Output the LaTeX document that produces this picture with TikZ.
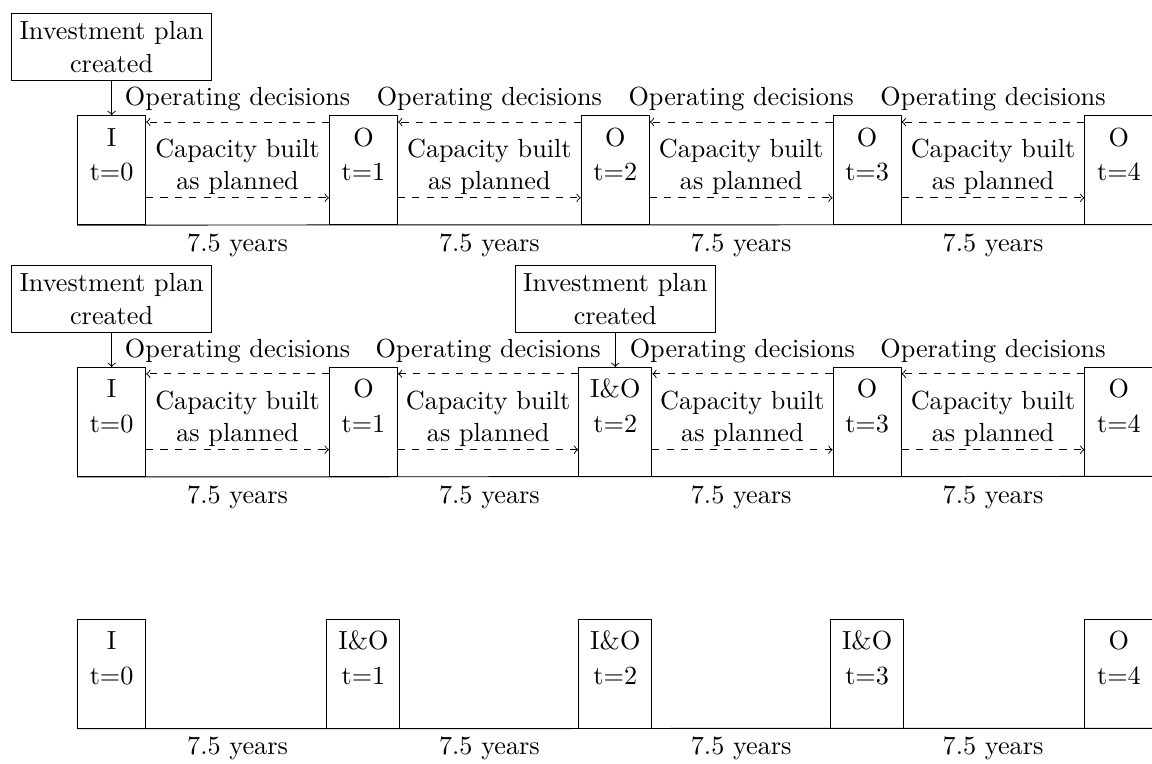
\documentclass[tikz,border=0pt]{standalone}
\usetikzlibrary{calc,positioning}
\begin{document}
\begin{tikzpicture}[
  every node/.style={font=\fontsize{10.95}{13.6}\selectfont},
  tbox/.style={draw, minimum width=1cm, minimum height=1.6cm, inner sep=0pt},
  tlabel/.style={anchor=north, inner sep=0pt, align=center},
  invbox/.style={draw, align=center},
  flow/.style={dashed, ->},
  lbl/.style={align=center}
]
\useasboundingbox (0,0) rectangle (16.926,-11.211);

% time boxes
\foreach \rw/\yy/\kk/\lab/\bw in {
  1/-2.5/0/I/1, 1/-2.5/1/O/1, 1/-2.5/2/O/1, 1/-2.5/3/O/1, 1/-2.5/4/O/1,
  2/-6.2/0/I/1, 2/-6.2/1/O/1, 2/-6.2/2/I\&O/1.073, 2/-6.2/3/O/1, 2/-6.2/4/O/1,
  3/-9.9/0/I/1, 3/-9.9/1/I\&O/1.073, 3/-9.9/2/I\&O/1.073, 3/-9.9/3/I\&O/1.073, 3/-9.9/4/O/1} {
  \node[tbox, minimum width=\bw cm] (b\rw\kk) at (1.64+3.7*\kk, \yy) {};
  \node[tlabel] (l\rw\kk) at ($(b\rw\kk.north)+(0,-0.164)$) {\rule{0pt}{8pt}\lab\\[0.9pt]t=\kk};
}

% time axes
\foreach \rw/\yy in {1/-2.5, 2/-6.2, 3/-9.9} {
  \coordinate (e\rw) at (17.2, \yy-0.8);
  \draw (b\rw0.south west) -- (e\rw);
  \foreach \kk/\nn in {0/1, 1/2, 2/3, 3/4} {
    \node[below] (y\rw\kk) at ($(b\rw\kk.south)!0.5!(b\rw\nn.south)$) {7.5 years};
  }
}

% flows between periods
\foreach \rw in {1,2} {
  \foreach \kk/\nn in {0/1, 1/2, 2/3, 3/4} {
    \draw[flow] ($(b\rw\nn.north west)+(0,-0.1)$) -- node[anchor=base, yshift=0.242cm] (od\rw\kk) {Operating decisions} ($(b\rw\kk.north east)+(0,-0.1)$);
    \draw[flow] ($(b\rw\kk.south east)+(0,0.4)$) -- node[lbl, yshift=0.455cm] (cb\rw\kk) {Capacity built\\as planned} ($(b\rw\nn.south west)+(0,0.4)$);
  }
}

% investment plans
\node[invbox, above=0.5cm of b10] (inv10) {Investment plan\\created};
\node[invbox, above=0.5cm of b20] (inv20) {Investment plan\\created};
\node[invbox, above=0.5cm of b22] (inv22) {Investment plan\\created};
\draw[->] (inv10) -- (b10);
\draw[->] (inv20) -- (b20);
\draw[->] (inv22) -- (b22);
\end{tikzpicture}
\end{document}
